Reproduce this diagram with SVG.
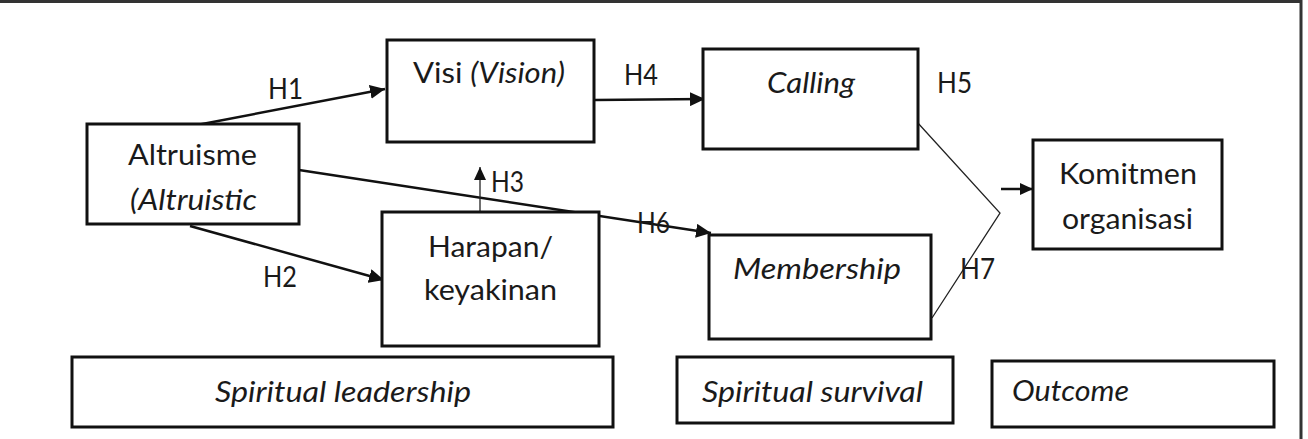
<svg xmlns="http://www.w3.org/2000/svg" width="1308" height="439" viewBox="0 0 1308 439">
<style>
.box{fill:#fff;stroke:#111;stroke-width:3}
.t{font-family:Lato,"Open Sans","Liberation Sans",sans-serif;font-size:29px;fill:#1a1a1a}
.i{font-style:italic}
.ln{fill:none;stroke:#111;stroke-width:2.5}
.thin{fill:none;stroke:#222;stroke-width:1.3}
</style>
<defs>
<marker id="ah" markerUnits="userSpaceOnUse" markerWidth="16" markerHeight="14" refX="15" refY="7" orient="auto">
<path d="M0,0 L15,7 L0,14 z" fill="#111"/>
</marker>
<marker id="ahs" markerUnits="userSpaceOnUse" markerWidth="14" markerHeight="12" refX="13" refY="6" orient="auto">
<path d="M0,0 L13,6 L0,12 z" fill="#111"/>
</marker>
</defs>
<rect width="1308" height="439" fill="#fff"/>
<path d="M0,1.5 H1301 V439" fill="none" stroke="#333" stroke-width="3"/>

<g id="connectors">
<line class="ln" x1="197" y1="125" x2="385" y2="89" marker-end="url(#ah)"/>
<line class="ln" x1="190" y1="226" x2="384" y2="280" marker-end="url(#ah)"/>
<line class="ln" x1="595" y1="100" x2="705" y2="99" marker-end="url(#ah)"/>
<line class="ln" x1="299" y1="170" x2="711" y2="233" marker-end="url(#ah)"/>
<line class="thin" x1="480" y1="233" x2="480" y2="167" marker-end="url(#ahs)"/>
<polyline class="thin" points="917,122 1000,213 932,318"/>
<line class="ln" x1="1001" y1="189" x2="1033" y2="189" marker-end="url(#ahs)"/>
<text class="t" x="268" y="99" textLength="35" lengthAdjust="spacingAndGlyphs">H1</text>
<text class="t" x="263" y="287" textLength="34" lengthAdjust="spacingAndGlyphs">H2</text>
<text class="t" x="491" y="192" textLength="33" lengthAdjust="spacingAndGlyphs">H3</text>
<text class="t" x="624" y="85" textLength="34" lengthAdjust="spacingAndGlyphs">H4</text>
<text class="t" x="937" y="93" textLength="35" lengthAdjust="spacingAndGlyphs">H5</text>
<text class="t" x="637" y="233" textLength="33" lengthAdjust="spacingAndGlyphs">H6</text>
<text class="t" x="960" y="279" textLength="35" lengthAdjust="spacingAndGlyphs">H7</text>
</g>

<g id="altruisme">
<rect class="box" x="87" y="124" width="212" height="100"/>
<text class="t" x="128" y="165" textLength="129" lengthAdjust="spacingAndGlyphs">Altruisme</text>
<text class="t i" x="130" y="210" textLength="127" lengthAdjust="spacingAndGlyphs">(Altruistic</text>
</g>

<g id="visi">
<rect class="box" x="387" y="40" width="207" height="102"/>
<text class="t" x="413" y="83" textLength="152" lengthAdjust="spacingAndGlyphs">Visi <tspan class="i">(Vision)</tspan></text>
</g>

<g id="harapan">
<rect class="box" x="382" y="212" width="217" height="134"/>
<text class="t" x="428" y="257" textLength="125" lengthAdjust="spacingAndGlyphs">Harapan/</text>
<text class="t" x="424" y="300" textLength="133" lengthAdjust="spacingAndGlyphs">keyakinan</text>
</g>

<g id="calling">
<rect class="box" x="703" y="49" width="215" height="100"/>
<text class="t i" x="767" y="93" textLength="88" lengthAdjust="spacingAndGlyphs">Calling</text>
</g>

<g id="membership">
<rect class="box" x="709" y="235" width="222" height="104"/>
<text class="t i" x="733" y="279" textLength="168" lengthAdjust="spacingAndGlyphs">Membership</text>
</g>

<g id="komitmen">
<rect class="box" x="1033" y="140" width="189" height="109"/>
<text class="t" x="1059" y="184" textLength="138" lengthAdjust="spacingAndGlyphs">Komitmen</text>
<text class="t" x="1062" y="229" textLength="131" lengthAdjust="spacingAndGlyphs">organisasi</text>
</g>

<g id="spiritual-leadership">
<rect class="box" x="72" y="357" width="541" height="70"/>
<text class="t i" x="215" y="402" textLength="256" lengthAdjust="spacingAndGlyphs">Spiritual leadership</text>
</g>

<g id="spiritual-survival">
<rect class="box" x="677" y="357" width="276" height="66"/>
<text class="t i" x="702" y="402" textLength="221" lengthAdjust="spacingAndGlyphs">Spiritual survival</text>
</g>

<g id="outcome">
<rect class="box" x="992" y="361" width="282" height="66"/>
<text class="t i" x="1012" y="401" textLength="117" lengthAdjust="spacingAndGlyphs">Outcome</text>
</g>
</svg>
